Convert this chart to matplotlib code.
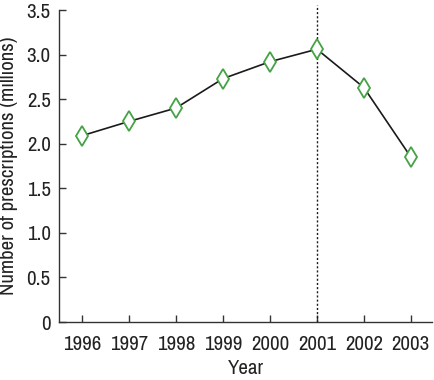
import matplotlib
matplotlib.use("Agg")
import matplotlib.pyplot as plt

years = [1996, 1997, 1998, 1999, 2000, 2001, 2002, 2003]
prescriptions = [2.09, 2.25, 2.40, 2.73, 2.92, 3.06, 2.63, 1.85]
y_ticks = [0, 0.5, 1.0, 1.5, 2.0, 2.5, 3.0, 3.5]
y_tick_labels = ["0", "0.5", "1.0", "1.5", "2.0", "2.5", "3.0", "3.5"]
marker_year = 2001

plt.rcParams["font.family"] = ["Archivo Narrow", "DejaVu Sans"]

fig = plt.figure(figsize=(4.35, 3.8), dpi=100)
ax = fig.add_axes([59 / 435, 58 / 380, 373 / 435, 312 / 380])

ax.plot(years, prescriptions, color="#1a1a1a", linewidth=1.2,
        marker="d", markersize=10, markerfacecolor="white",
        markeredgecolor="#45a245", markeredgewidth=1.3, zorder=3)

ax.axvline(marker_year, ymin=0, ymax=1.016, color="#1a1a1a",
           linestyle=(0, (1.5, 1.5)), linewidth=1.0, clip_on=False, zorder=2)

ax.set_xlim(1995.51, 2003.45)
ax.set_ylim(0, 3.5)
ax.set_xticks(years)
ax.set_xticklabels([str(y) for y in years])
ax.set_yticks(y_ticks)
ax.set_yticklabels(y_tick_labels)

for side in ["top", "right"]:
    ax.spines[side].set_visible(False)
for side in ["left", "bottom"]:
    ax.spines[side].set_color("#333333")
    ax.spines[side].set_linewidth(1.0)

ax.tick_params(direction="in", length=5, width=1.0, color="#333333",
               labelsize=15, labelcolor="#222222")
ax.tick_params(axis="x", pad=9)
ax.tick_params(axis="y", pad=6)

ax.set_xlabel("Year", fontsize=15, color="#222222", labelpad=4)
ax.set_ylabel("Number of prescriptions (millions)", fontsize=15,
              color="#222222", labelpad=6)

fig.savefig("out.png", dpi=100)
